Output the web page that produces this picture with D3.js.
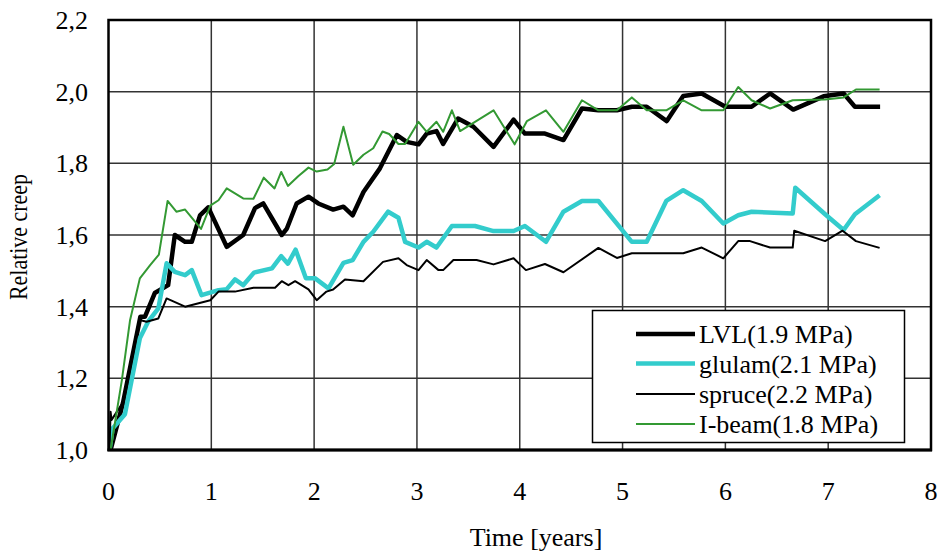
<!DOCTYPE html>
<html>
<head>
<meta charset="utf-8">
<style>
    body { margin: 0; background: #fff; }
    svg text { font-family: 'Liberation Serif', 'Times New Roman', Times, 'DejaVu Serif', serif; fill: #000; }
    .grid line { stroke: #333; stroke-width: 1.5px; }
    .series { fill: none; stroke-linejoin: round; }
</style>
</head>
<body>
<svg id="chart" width="940" height="554"></svg>
<script src="https://d3js.org/d3.v7.min.js"></script>
<script>
    // series data: [time in years, relative creep]
    let lvl = [[0.02,1.0],[0.14,1.13],[0.31,1.372],[0.355,1.372],[0.45,1.438],[0.58,1.46],[0.645,1.60],[0.745,1.581],[0.81,1.581],[0.89,1.655],[0.97,1.677],[1.15,1.567],[1.31,1.60],[1.425,1.675],[1.505,1.688],[1.685,1.60],[1.735,1.618],[1.83,1.688],[1.945,1.707],[2.04,1.688],[2.185,1.671],[2.285,1.679],[2.375,1.655],[2.48,1.72],[2.64,1.786],[2.805,1.879],[2.9,1.86],[3.015,1.853],[3.095,1.883],[3.19,1.89],[3.255,1.854],[3.40,1.925],[3.55,1.902],[3.745,1.846],[3.94,1.922],[4.05,1.883],[4.245,1.883],[4.425,1.865],[4.605,1.953],[4.765,1.948],[4.945,1.948],[5.09,1.958],[5.235,1.958],[5.43,1.918],[5.59,1.988],[5.77,1.995],[6.0,1.958],[6.255,1.958],[6.435,1.995],[6.66,1.95],[6.955,1.987],[7.15,1.995],[7.26,1.958],[7.505,1.958]]

    let glulam = [[0.01,1.0],[0.04,1.06],[0.16,1.10],[0.305,1.312],[0.385,1.358],[0.485,1.395],[0.565,1.521],[0.645,1.497],[0.745,1.488],[0.81,1.502],[0.905,1.432],[1.07,1.446],[1.15,1.449],[1.23,1.476],[1.31,1.46],[1.415,1.495],[1.59,1.507],[1.68,1.541],[1.745,1.52],[1.82,1.559],[1.92,1.479],[2.01,1.479],[2.14,1.451],[2.285,1.522],[2.375,1.53],[2.48,1.581],[2.575,1.609],[2.72,1.665],[2.82,1.648],[2.885,1.581],[3.015,1.565],[3.095,1.581],[3.19,1.565],[3.34,1.625],[3.565,1.625],[3.745,1.611],[3.94,1.611],[4.05,1.625],[4.255,1.581],[4.425,1.665],[4.605,1.695],[4.765,1.695],[5.09,1.581],[5.235,1.581],[5.425,1.695],[5.59,1.725],[5.77,1.695],[5.98,1.632],[6.125,1.655],[6.255,1.665],[6.655,1.66],[6.68,1.732],[6.97,1.658],[7.15,1.614],[7.26,1.658],[7.50,1.711]]

    let spruce = [[0.01,1.0],[0.02,1.107],[0.03,1.084],[0.145,1.135],[0.305,1.363],[0.37,1.358],[0.485,1.367],[0.565,1.423],[0.745,1.40],[0.99,1.418],[1.07,1.442],[1.23,1.442],[1.41,1.453],[1.62,1.453],[1.685,1.471],[1.75,1.46],[1.815,1.471],[1.945,1.448],[2.025,1.418],[2.12,1.442],[2.185,1.448],[2.30,1.476],[2.48,1.471],[2.67,1.525],[2.82,1.535],[2.90,1.516],[3.015,1.502],[3.095,1.53],[3.21,1.502],[3.255,1.502],[3.355,1.53],[3.58,1.53],[3.745,1.518],[3.94,1.535],[4.06,1.502],[4.245,1.519],[4.425,1.496],[4.765,1.564],[4.945,1.536],[5.09,1.549],[5.59,1.549],[5.77,1.565],[5.98,1.535],[6.125,1.583],[6.24,1.583],[6.435,1.565],[6.655,1.565],[6.67,1.612],[6.97,1.583],[7.14,1.612],[7.27,1.583],[7.50,1.564]]

    let ibeam = [[0.02,1.0],[0.13,1.195],[0.21,1.363],[0.305,1.479],[0.405,1.516],[0.49,1.545],[0.575,1.695],[0.66,1.665],[0.745,1.671],[0.90,1.617],[0.99,1.682],[1.07,1.697],[1.15,1.73],[1.31,1.702],[1.41,1.701],[1.51,1.76],[1.615,1.73],[1.68,1.776],[1.745,1.737],[1.845,1.764],[1.945,1.788],[2.025,1.777],[2.13,1.783],[2.195,1.798],[2.285,1.902],[2.38,1.796],[2.48,1.824],[2.575,1.842],[2.665,1.889],[2.73,1.882],[2.82,1.854],[2.885,1.854],[3.015,1.916],[3.095,1.888],[3.19,1.916],[3.255,1.888],[3.34,1.948],[3.42,1.89],[3.745,1.948],[3.95,1.853],[4.07,1.918],[4.255,1.948],[4.425,1.888],[4.605,1.976],[4.765,1.948],[4.945,1.948],[5.09,1.984],[5.235,1.948],[5.425,1.948],[5.59,1.976],[5.77,1.948],[5.98,1.948],[6.125,2.013],[6.255,1.976],[6.435,1.953],[6.655,1.976],[6.97,1.978],[7.15,1.984],[7.27,2.006],[7.50,2.006]]

    let seriesNames = ["LVL(1.9 MPa)", "glulam(2.1 MPa)", "spruce(2.2 MPa)", "I-beam(1.8 MPa)"]
    let seriesColors = ["#000000", "#33cccc", "#000000", "#339933"]
    let seriesWidths = [4.5, 4.5, 2, 2]
    let xTicks = [0, 1, 2, 3, 4, 5, 6, 7, 8]
    let yTicks = [1.0, 1.2, 1.4, 1.6, 1.8, 2.0, 2.2]

    let serif = "'Liberation Serif', 'Times New Roman', Times, 'DejaVu Serif', serif"
    let svg = d3.select("#chart")

    let x = d3.scaleLinear().domain([0, 8]).range([108.5, 931])
    let y = d3.scaleLinear().domain([1, 2.2]).range([450, 20])

    // gridlines
    let grid = svg.append("g").attr("class", "grid")
    grid.selectAll(".vg")
        .data(xTicks.slice(1, -1))
        .enter().append("line")
        .attr("x1", d => x(d)).attr("x2", d => x(d))
        .attr("y1", y(2.2)).attr("y2", y(1))
    grid.selectAll(".hg")
        .data(yTicks.slice(1, -1))
        .enter().append("line")
        .attr("x1", x(0)).attr("x2", x(8))
        .attr("y1", d => y(d)).attr("y2", d => y(d))

    // series
    let line = d3.line().x(d => x(d[0])).y(d => y(d[1]))
    let allSeries = [lvl, glulam, spruce, ibeam]

    svg.append("defs").append("clipPath").attr("id", "plotclip")
        .append("rect")
        .attr("x", x(0)).attr("y", y(2.2))
        .attr("width", x(8) - x(0)).attr("height", y(1) - y(2.2))

    svg.append("g").attr("clip-path", "url(#plotclip)")
        .selectAll("path")
        .data(allSeries)
        .enter().append("path")
        .attr("class", "series")
        .attr("d", d => line(d))
        .attr("stroke", (d, i) => seriesColors[i])
        .attr("stroke-width", (d, i) => seriesWidths[i])

    // plot frame
    svg.append("rect")
        .attr("x", x(0)).attr("y", y(2.2))
        .attr("width", x(8) - x(0)).attr("height", y(1) - y(2.2))
        .attr("fill", "none")
        .attr("stroke", "#000")
        .attr("stroke-width", 2.5)
    svg.append("line")
        .attr("x1", x(0) - 1).attr("x2", x(8) + 1)
        .attr("y1", y(1)).attr("y2", y(1))
        .attr("stroke", "#000").attr("stroke-width", 3)

    // tick labels
    svg.selectAll(".xt")
        .data(xTicks)
        .enter().append("text")
        .attr("x", d => x(d))
        .attr("y", 500)
        .attr("text-anchor", "middle")
        .attr("font-family", serif)
        .attr("font-size", 26)
        .text(d => d)

    svg.selectAll(".yt")
        .data(yTicks)
        .enter().append("text")
        .attr("x", 88)
        .attr("y", d => y(d) + 9)
        .attr("text-anchor", "end")
        .attr("font-family", serif)
        .attr("font-size", 26)
        .text(d => d3.format(".1f")(d).replace(".", ","))

    // axis titles
    svg.append("text")
        .attr("x", 536)
        .attr("y", 546)
        .attr("text-anchor", "middle")
        .attr("font-family", serif)
        .attr("font-size", 26)
        .text("Time [years]")

    svg.append("text")
        .attr("transform", "translate(27,237) rotate(-90)")
        .attr("text-anchor", "middle")
        .attr("textLength", 126)
        .attr("lengthAdjust", "spacingAndGlyphs")
        .attr("font-family", serif)
        .attr("font-size", 26)
        .text("Relative creep")

    // legend
    let legend = svg.append("g")
    legend.append("rect")
        .attr("x", 592.5).attr("y", 310.5)
        .attr("width", 312).attr("height", 132)
        .attr("fill", "#fff")
        .attr("stroke", "#000")
        .attr("stroke-width", 1.5)

    let rows = legend.selectAll(".row")
        .data(seriesNames)
        .enter().append("g")
        .attr("transform", (d, i) => "translate(0," + [334, 363.5, 394, 424][i] + ")")

    rows.append("line")
        .attr("x1", 636).attr("x2", 695)
        .attr("stroke", (d, i) => seriesColors[i])
        .attr("stroke-width", (d, i) => seriesWidths[i])

    rows.append("text")
        .attr("x", 699)
        .attr("y", 9)
        .attr("font-family", serif)
        .attr("font-size", 26)
        .text(d => d)
</script>
</body>
</html>
